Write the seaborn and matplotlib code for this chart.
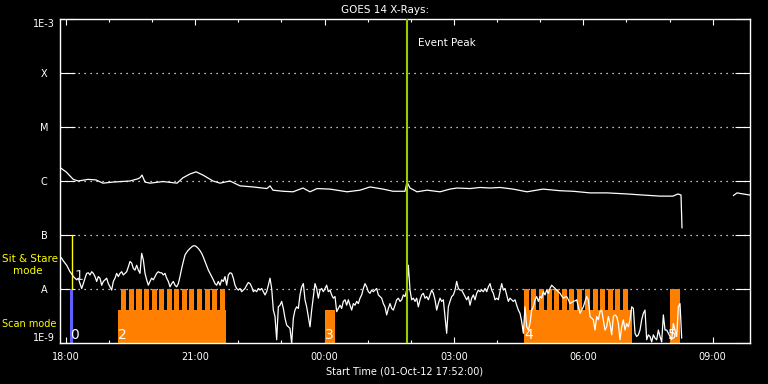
import numpy as np
import pandas as pd
import matplotlib
matplotlib.use("Agg")
import matplotlib.pyplot as plt
from matplotlib.ticker import NullLocator, FixedLocator
import seaborn as sns

# ---------------- data ----------------
TITLE = "GOES 14 X-Rays:"
XLABEL = "Start Time (01-Oct-12 17:52:00)"
X_RANGE_MIN = 960          # minutes shown after 17:52

xtick_minutes = [8, 188, 368, 548, 728, 908]
xtick_labels = ["18:00", "21:00", "00:00", "03:00", "06:00", "09:00"]
xminor_minutes = [68, 128, 248, 308, 428, 488, 608, 668, 788, 848]

ytick_values = [1e-9, 1e-8, 1e-7, 1e-6, 1e-5, 1e-4, 1e-3]
ytick_labels = ["1E-9", "A", "B", "C", "M", "X", "1E-3"]
grid_levels = [1e-8, 1e-7, 1e-6, 1e-5, 1e-4]

# long channel (1-8 A): minutes after start, log10 flux (two segments, data gap between)
long_t_a = [1, 8.4, 18.5, 25.4, 39.0, 50.1, 59.8, 73.8, 97.4, 108.1,
            111.3, 114.1, 118.3, 125.2, 143.3, 162.8, 171.1, 180.9, 189.3, 198.9,
            212.9, 222.7, 236.5, 250.5, 268.5, 288.0, 292.2, 296.3, 310.3, 324.2,
            338.1, 347.8, 357.6, 375.6, 399.4, 417.4, 431.4, 449.4, 463.4, 480.0,
            482.8, 487.0, 496.7, 510.6, 528.7, 542.6, 552.3, 570.5, 584.3, 598.3,
            612.2, 630.3, 649.7, 672.0, 695.7, 713.7, 737.4, 761.0, 788.9, 811.2,
            834.8, 852.8, 859.8, 864.0, 865.4]
long_log_a = [-5.76, -5.83, -5.97, -6.00, -5.97, -5.98, -6.04, -6.02, -6.00, -5.96,
              -5.94, -5.89, -6.02, -6.04, -6.01, -6.04, -5.94, -5.87, -5.83, -5.89,
              -6.00, -6.04, -6.00, -6.09, -6.11, -6.14, -6.09, -6.17, -6.19, -6.20,
              -6.13, -6.20, -6.14, -6.15, -6.20, -6.17, -6.11, -6.15, -6.19, -6.19,
              -6.02, -6.13, -6.20, -6.17, -6.20, -6.15, -6.13, -6.14, -6.12, -6.13,
              -6.12, -6.15, -6.20, -6.15, -6.18, -6.19, -6.22, -6.22, -6.24, -6.26,
              -6.28, -6.28, -6.24, -6.26, -6.87]
long_t_b = [936.8, 942.0, 950.3, 960.0]
long_log_b = [-6.27, -6.22, -6.24, -6.26]

# short channel (0.5-4 A): regular cadence samples, log10 flux
SHORT_CADENCE_MIN = 2.3189
short_log = [
    -7.40, -7.43, -7.48, -7.52, -7.56, -7.62, -7.68, -7.72, -7.77, -7.80,
    -7.83, -7.80, -7.90, -7.99, -7.90, -7.80, -7.71, -7.70, -7.74, -7.68,
    -7.71, -7.77, -7.86, -7.77, -7.80, -7.93, -7.86, -7.83, -7.80, -7.90,
    -7.96, -8.02, -7.86, -7.80, -7.71, -7.77, -7.71, -7.68, -7.74, -7.71,
    -7.68, -7.59, -7.49, -7.52, -7.62, -7.65, -7.56, -7.65, -7.71, -7.34,
    -7.46, -7.71, -7.83, -7.93, -7.86, -7.80, -7.83, -7.77, -7.71, -7.68,
    -7.70, -7.70, -7.74, -7.71, -7.80, -7.86, -7.96, -7.90, -7.86, -7.93,
    -7.96, -7.90, -7.77, -7.62, -7.49, -7.37, -7.32, -7.28, -7.25, -7.22,
    -7.20, -7.20, -7.22, -7.25, -7.29, -7.34, -7.41, -7.49, -7.57, -7.65,
    -7.71, -7.77, -7.83, -7.90, -7.93, -7.86, -7.93, -7.83, -7.86, -7.77,
    -7.93, -7.74, -7.70,
    -7.71, -7.80, -7.93, -7.99, -8.02, -7.99, -8.05, -8.02, -7.99, -7.93,
    -7.88, -7.90, -7.96, -8.05, -8.02, -8.05, -7.99, -8.02, -7.99, -8.05,
    -8.11, -8.05, -7.93, -7.80, -7.99, -8.39, -8.51, -8.94, -8.33, -8.30,
    -8.23, -8.36, -8.54, -8.67, -8.70, -8.73, -9.01, -8.54, -8.39, -8.33,
    -8.36, -8.11, -7.96, -7.90, -8.20, -8.33, -8.51, -8.70, -8.39, -8.14,
    -7.90, -7.99, -8.17, -8.02, -7.99, -8.05, -7.99, -7.93, -8.05, -8.02,
    -8.11, -8.17, -8.14, -8.42, -8.36, -8.30, -8.36, -8.23, -8.20, -8.30,
    -8.20, -8.30, -8.39, -8.27, -8.30, -8.23, -8.27, -8.17, -8.11, -7.99,
    -7.90, -7.96, -8.05, -8.08, -8.02, -8.05, -8.02, -7.99, -8.11, -8.14,
    -8.17, -8.27, -8.33, -8.48, -8.36, -8.27, -8.36, -8.39, -8.30, -8.20,
    -8.17, -8.23,
    -8.20, -8.11, -8.14, -8.02, -7.56, -8.02, -8.20, -8.17, -8.23, -8.17,
    -8.33, -8.20, -8.11, -8.08, -8.17, -8.14, -8.20, -8.11, -8.02, -8.08,
    -8.20, -8.39, -8.27, -8.17, -8.23, -8.20, -8.51, -8.82, -8.33, -8.23,
    -8.14, -8.11, -8.02, -7.86, -7.99, -8.02, -8.02, -8.08, -8.14, -8.20,
    -8.14, -8.30, -8.17, -8.11, -8.20, -8.08, -8.02, -8.05, -8.02, -8.05,
    -7.99, -8.05, -7.96, -7.90, -8.02, -8.08, -8.20, -8.17, -8.20, -8.05,
    -7.90, -8.02, -7.99, -8.11, -8.23, -8.17, -8.20, -8.23, -8.20, -8.30,
    -8.39, -8.45, -8.60, -8.82, -8.33, -8.70, -8.76, -8.64, -8.39, -8.33,
    -8.20, -8.14, -8.23, -8.14, -8.17, -8.05, -8.11, -8.02, -8.08, -7.99,
    -7.93, -7.96, -7.99, -8.02, -8.05, -8.08, -8.13, -8.17, -8.15, -8.14,
    -8.20, -8.27, -8.25, -8.23, -8.22, -8.20, -8.33, -8.45, -8.39, -8.33,
    -8.23, -8.14, -8.20, -8.51, -8.54, -8.57, -8.76, -8.51, -8.57, -8.42,
    -8.39, -8.57, -8.76, -8.70, -8.51, -8.64, -8.85, -8.51, -8.48, -8.51,
    -8.64, -8.94, -8.70, -8.57, -8.76, -8.64, -8.70, -8.57, -8.33, -8.36,
    -8.82, -8.88, -8.85, -8.76, -8.57, -8.45, -8.39, -8.94, -8.85, -8.88,
    -8.98, -8.85, -8.91, -8.94, -8.76, -8.88, -8.98, -8.48, -8.76, -8.76,
    -8.82, -8.88, -8.94, -8.64, -8.76, -8.88, -8.33, -8.27, -8.91,
]

# instrument mode bars (minutes after start)
scan_base_start = [80.7, 368.7, 645.5]
scan_base_end = [230.9, 382.6, 795.4]
SCAN_BASE_TOP = 4.1e-9
scan_teeth_start = [85.4, 95.9, 106.4, 117.0, 127.4, 138.0, 148.6, 159.0, 169.6, 180.1,
                    190.7, 201.2, 211.7, 222.3,
                    645.5, 655.3, 666.9, 677.2, 687.3, 698.0, 708.2, 719.7, 730.5, 741.2,
                    751.3, 762.0, 772.6, 783.7]
SCAN_TOOTH_WIDTH = 7.0
SCAN_TOOTH_TOP = 1e-8
mode5_start, mode5_end = 848.8, 862.6
mode0_start, mode0_end = 13.9, 18.5
stare_line_min = 17.1
stare_line_range = (1e-8, 1e-7)

mode_labels = ["0", "2", "3", "4", "5"]
mode_label_min = [14.6, 81.0, 369.2, 646.5, 846.5]
mode1_label_min = 20.5

EVENT_PEAK_MIN = 482.4
EVENT_LABEL_MIN = 497.7

# ---------------- styling ----------------
ORANGE = "#ff8000"
BLUE = "#6060ff"
YELLOW = "#ffff00"
EVENT_GREEN = "#99cc00"

sns.set_theme(style="dark", rc={
    "axes.facecolor": "black", "figure.facecolor": "black",
    "axes.edgecolor": "white", "text.color": "white",
    "xtick.color": "white", "ytick.color": "white",
    "axes.labelcolor": "white", "axes.grid": False,
})
plt.rcParams["font.family"] = ["DejaVu Sans"]

fig = plt.figure(figsize=(7.68, 3.84), dpi=100)
ax = fig.add_axes([60 / 768, 41 / 384, 690 / 768, 324 / 384])
ax.set_yscale("log")

# grid (dotted) at decades
for lev in grid_levels:
    ax.axhline(lev, color="white", lw=0.9, ls=(0, (1, 3.8)), zorder=0.5)

# mode bars
for s, e in zip(scan_base_start, scan_base_end):
    ax.bar(s, SCAN_BASE_TOP - 1e-9, width=e - s, bottom=1e-9, align="edge",
           color=ORANGE, lw=0, zorder=1)
for s in scan_teeth_start:
    ax.bar(s, SCAN_TOOTH_TOP - 1e-9, width=SCAN_TOOTH_WIDTH, bottom=1e-9, align="edge",
           color=ORANGE, lw=0, zorder=1)
ax.bar(mode5_start, SCAN_TOOTH_TOP - 1e-9, width=mode5_end - mode5_start, bottom=1e-9,
       align="edge", color=ORANGE, lw=0, zorder=1)
ax.bar(mode0_start, SCAN_TOOTH_TOP - 1e-9, width=mode0_end - mode0_start, bottom=1e-9,
       align="edge", color=BLUE, lw=0, zorder=1)
ax.plot([stare_line_min, stare_line_min], stare_line_range, color=YELLOW, lw=1.0, zorder=1.5)

# curves
long_df = pd.DataFrame({
    "minutes": long_t_a + long_t_b,
    "flux": 10 ** np.array(long_log_a + long_log_b),
    "segment": ["a"] * len(long_t_a) + ["b"] * len(long_t_b),
})
sns.lineplot(data=long_df, x="minutes", y="flux", units="segment", estimator=None,
             sort=False, color="white", lw=0.9, ax=ax, zorder=3)

short_df = pd.DataFrame({
    "minutes": np.arange(len(short_log)) * SHORT_CADENCE_MIN,
    "flux": 10 ** np.array(short_log),
})
sns.lineplot(data=short_df, x="minutes", y="flux", estimator=None, sort=False,
             color="white", lw=0.9, ax=ax, zorder=3)

# event peak
ax.axvline(EVENT_PEAK_MIN, color=EVENT_GREEN, lw=1.5, zorder=4)
ax.text(EVENT_LABEL_MIN, 10 ** -3.44, "Event Peak", color="white", fontsize=7.5,
        ha="left", va="center")

# mode labels
for lab, m in zip(mode_labels, mode_label_min):
    ax.text(m, 10 ** -8.93, lab, color="white", fontsize=10,
            ha="left", va="baseline", zorder=5)
ax.text(mode1_label_min, 10 ** -7.83, "1", color="#dddddd", fontsize=10,
        ha="left", va="baseline", zorder=5)

# axes
ax.set_xlim(0, X_RANGE_MIN)
ax.set_ylim(1e-9, 1e-3)
ax.xaxis.set_major_locator(FixedLocator(xtick_minutes))
ax.set_xticklabels(xtick_labels)
ax.xaxis.set_minor_locator(FixedLocator(xminor_minutes))
ax.yaxis.set_major_locator(FixedLocator(ytick_values))
ax.yaxis.set_minor_locator(NullLocator())
ax.set_yticklabels(ytick_labels)
ylabels = ax.get_yticklabels()
for lbl in ylabels:
    lbl.set_horizontalalignment("center")
ylabels[0].set_verticalalignment("bottom")
ylabels[-1].set_verticalalignment("top")

ax.tick_params(axis="x", which="major", direction="in", length=4.3, width=0.8,
               top=True, bottom=True, labelsize=7, pad=6.5, colors="white")
ax.tick_params(axis="x", which="minor", direction="in", length=2.2, width=0.8,
               top=True, bottom=True, colors="white")
ax.tick_params(axis="y", which="major", direction="in", length=10.8, width=0.8,
               left=True, right=True, labelsize=7, pad=11.5, colors="white")
for sp in ax.spines.values():
    sp.set_color("white")
    sp.set_linewidth(1.0)

ax.set_xlabel(XLABEL, fontsize=7, labelpad=3)
ax.set_ylabel("")

# title and side annotations
fig.text(385 / 768, 1 - 10 / 384, TITLE, ha="center", va="center", fontsize=7.5)
fig.text(2 / 768, 1 - 259 / 384, "Sit & Stare", ha="left", va="center",
         fontsize=7.5, color=YELLOW)
fig.text(13 / 768, 1 - 271 / 384, "mode", ha="left", va="center",
         fontsize=7.5, color=YELLOW)
fig.text(2 / 768, 1 - 324 / 384, "Scan mode", ha="left", va="center",
         fontsize=7, color=YELLOW)

fig.savefig("out.png", dpi=100, facecolor="black")
